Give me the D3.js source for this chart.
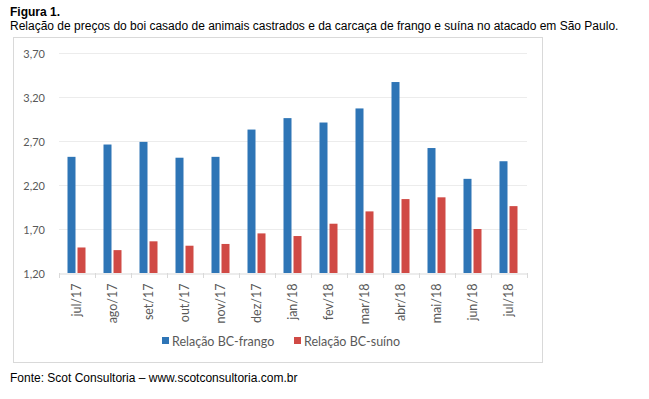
<!DOCTYPE html>
<html>
<head>
<meta charset="utf-8">
<script src="https://cdn.jsdelivr.net/npm/d3@7/dist/d3.min.js"></script>
<style>
  body { margin: 0; background: #fff; }
  svg text { font-family: "Liberation Sans", Arial, sans-serif; }
  .calib { font-family: Lato, "Open Sans", sans-serif; fill: #595959; }
</style>
</head>
<body>
<svg id="chart" width="649" height="399"></svg>
<script>
// categories and series
const months = ["jul/17", "ago/17", "set/17", "out/17", "nov/17", "dez/17", "jan/18",
                "fev/18", "mar/18", "abr/18", "mai/18", "jun/18", "jul/18"];
const frango = [2.52, 2.66, 2.69, 2.51, 2.52, 2.83, 2.96, 2.91, 3.07, 3.37, 2.62, 2.27, 2.47];
const suino = [1.49, 1.46, 1.56, 1.51, 1.53, 1.65, 1.62, 1.76, 1.90, 2.04, 2.06, 1.70, 1.96];
const yTicks = [1.2, 1.7, 2.2, 2.7, 3.2, 3.7];
const seriesNames = ["Relação BC-frango", "Relação BC-suíno"];
const colors = ["#2e75b6", "#d04a45"];

const svg = d3.select("#chart");

// header
svg.append("text").attr("x", 10).attr("y", 16)
  .style("font-size", "12px").style("font-weight", "bold").text("Figura 1.");
svg.append("text").attr("x", 10).attr("y", 30)
  .style("font-size", "12px").text("Relação de preços do boi casado de animais castrados e da carcaça de frango e suína no atacado em São Paulo.");

// chart frame
svg.append("rect").attr("x", 13.5).attr("y", 37.5).attr("width", 529).attr("height", 325)
  .attr("fill", "#fff").attr("stroke", "#d9d9d9");

const plot = { left: 59, right: 527, top: 53, bottom: 273 };

const x = d3.scaleBand().domain(months).range([plot.left, plot.right]);
const y = d3.scaleLinear().domain([1.2, 3.7]).range([plot.bottom, plot.top]);

// gridlines
svg.append("g").selectAll("line").data(yTicks.slice(1)).join("line")
  .attr("x1", plot.left).attr("x2", plot.right)
  .attr("y1", d => Math.round(y(d)) + 0.5).attr("y2", d => Math.round(y(d)) + 0.5)
  .attr("stroke", "#ececec");

// y axis labels
const yAxis = svg.append("g").attr("transform", `translate(${plot.left},0.5)`)
  .call(d3.axisLeft(y).tickValues(yTicks).tickSize(0).tickPadding(14)
    .tickFormat(d => d3.format(".2f")(d).replace(".", ",")));
yAxis.select(".domain").remove();
yAxis.selectAll("text").attr("class", "calib").style("font-size", "11px");

// bars
const bw = 8, gap = 2;
const groups = [frango, suino];
groups.forEach((vals, s) => {
  svg.append("g").selectAll("rect").data(vals).join("rect")
    .attr("x", (d, i) => x(months[i]) + x.bandwidth() / 2 - bw - gap / 2 + s * (bw + gap) - 0.5)
    .attr("y", d => y(d))
    .attr("width", bw)
    .attr("height", d => y(1.2) - y(d))
    .attr("fill", colors[s]);
});

// x axis
const xAxis = svg.append("g").attr("transform", `translate(0,${plot.bottom + 0.5})`)
  .call(d3.axisBottom(x).tickSize(0).tickPadding(0));
xAxis.select(".domain").attr("stroke", "#d9d9d9");
xAxis.selectAll(".tick line").remove();
xAxis.selectAll(".tick text")
  .attr("class", "calib")
  .style("font-size", "12.5px")
  .attr("text-anchor", "end")
  .attr("transform", "rotate(-90)")
  .attr("x", -10).attr("y", 0).attr("dy", "0.35em");
// boundary tick marks
svg.append("g").selectAll("line").data(d3.range(months.length + 1)).join("line")
  .attr("x1", i => Math.round(plot.left + i * x.step()) + 0.5)
  .attr("x2", i => Math.round(plot.left + i * x.step()) + 0.5)
  .attr("y1", plot.bottom).attr("y2", plot.bottom + 5)
  .attr("stroke", "#d9d9d9");

// legend
const legendX = [162, 294];
const legend = svg.append("g");
seriesNames.forEach((name, i) => {
  legend.append("rect").attr("x", legendX[i]).attr("y", 337).attr("width", 7).attr("height", 7)
    .attr("fill", colors[i]);
  legend.append("text").attr("class", "calib").attr("x", legendX[i] + 10).attr("y", 345.5)
    .style("font-size", "12.5px").text(name);
});

// source
svg.append("text").attr("x", 10).attr("y", 382)
  .style("font-size", "12px").text("Fonte: Scot Consultoria – www.scotconsultoria.com.br");
</script>
</body>
</html>
